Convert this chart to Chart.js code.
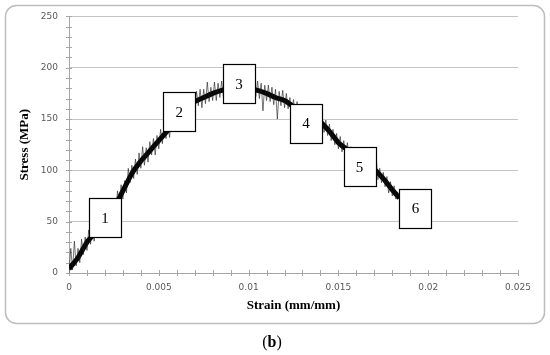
<!DOCTYPE html>
<html><head><meta charset="utf-8">
<script src="https://cdn.jsdelivr.net/npm/chart.js@4/dist/chart.umd.min.js"></script>
<style>html,body{margin:0;padding:0;background:#fff;overflow:hidden}#wrap{width:550px;height:355px;position:relative}</style>
</head><body><div id="wrap"><canvas id="c"></canvas></div>
<script>
// Strain (mm/mm) samples of the measured curve
const strain = [
0,0.0001,0.0002,0.0003,0.0004, 0.0005,0.0006,0.0007,0.0008,0.0009,
0.001,0.0011,0.0012,0.0013,0.0014, 0.0015,0.0016,0.0017,0.0018,0.0019,
0.002,0.0021,0.0022,0.0023,0.0024, 0.0025,0.0026,0.0027,0.0028,0.0029,
0.003,0.0031,0.0032,0.0033,0.0034, 0.0035,0.0036,0.0037,0.0038,0.0039,
0.004,0.0041,0.0042,0.0043,0.0044, 0.0045,0.0046,0.0047,0.0048,0.0049,
0.005,0.0051,0.0052,0.0053,0.0054, 0.0055,0.0056,0.0057,0.0058,0.0059,
0.006,0.0061,0.0062,0.0063,0.0064, 0.0065,0.0066,0.0067,0.0068,0.0069,
0.007,0.0071,0.0072,0.0073,0.0074, 0.0075,0.0076,0.0077,0.0078,0.0079,
0.008,0.0081,0.0082,0.0083,0.0084, 0.0085,0.0086,0.0087,0.0088,0.0089,
0.009,0.0091,0.0092,0.0093,0.0094, 0.0095,0.0096,0.0097,0.0098,0.0099,
0.01,0.0101,0.0102,0.0103,0.0104, 0.0105,0.0106,0.0107,0.0108,0.0109,
0.011,0.0111,0.0112,0.0113,0.0114, 0.0115,0.0116,0.0117,0.0118,0.0119,
0.012,0.0121,0.0122,0.0123,0.0124, 0.0125,0.0126,0.0127,0.0128,0.0129,
0.013,0.0131,0.0132,0.0133,0.0134, 0.0135,0.0136,0.0137,0.0138,0.0139,
0.014,0.0141,0.0142,0.0143,0.0144, 0.0145,0.0146,0.0147,0.0148,0.0149,
0.015,0.0151,0.0152,0.0153,0.0154, 0.0155,0.0156,0.0157,0.0158,0.0159,
0.016,0.0161,0.0162,0.0163,0.0164, 0.0165,0.0166,0.0167,0.0168,0.0169,
0.017,0.0171,0.0172,0.0173,0.0174, 0.0175,0.0176,0.0177,0.0178,0.0179,
0.018,0.0181,0.0182,0.0183,0.0184
];
// Stress (MPa) readings (noisy signal)
const stress = [
0,24,3,31,7, 24,10,33,18,35,
22,42,28,50,31, 49,35,50,37,60,
43,62,47,65,54, 71,59,80,67,86,
72,90,78,102,88, 105,92,111,96,117,
102,123,105,122,108, 128,115,131,115,134,
121,140,126,146,131, 147,132,150,139,157,
143,160,148,165,150, 169,154,171,150,173,
159,177,163,179,161, 179,165,186,167,181,
168,186,168,185,171, 187,171,191,171,187,
174,189,172,191,174, 189,174,190,171,191,
172,192,172,187,172, 187,170,185,158,183,
168,183,167,181,164, 179,150,177,163,178,
161,175,160,171,156, 169,155,167,151,162,
149,161,146,158,145, 157,143,156,141,154,
140,153,137,149,134, 145,129,140,125,136,
121,133,118,129,114, 127,113,123,109,120,
107,119,105,115,101, 114,100,111,97,109,
94,113,91,102,88, 98,84,94,78,89,
75,85,72,79,73
];
// Mean trend of the band
const trendStrain = [0,0.0005,0.001,0.0015,0.002,0.0025,0.003,0.0035,0.004,0.0045,0.005,0.0055,0.006,0.0065,0.007,0.0075,0.008,0.0085,0.009,0.0095,0.01,0.0105,0.011,0.0115,0.012,0.0125,0.013,0.0135,0.014,0.0145,0.015,0.0155,0.016,0.0165,0.017,0.0175,0.018,0.0184];
const trendStress = [4,15,30,40,50,63,80,97,109,119,129,139,150,160,167,171,175,178,180,181,180,178,175,171,168,162,155,150,147,138,127,120,113,107,101,92,81,73];
// Stage labels (boxes) anchored in data coordinates
const boxLabels = ['1','2','3','4','5','6'];
const boxStrain = [0.0020,0.00614,0.00946,0.01319,0.01618,0.01929];
const boxStress = [53.6,157,184.4,146,103.6,63];
// Axis ticks
const xTicks = [0,0.005,0.01,0.015,0.02,0.025];
const yTicks = [0,50,100,150,200,250];

const decor = {
  id:'decor',
  beforeDraw(chart){
    const ctx = chart.ctx;
    ctx.save();
    ctx.fillStyle='#fff'; ctx.fillRect(0,0,chart.width,chart.height);
    ctx.strokeStyle='#bdbdbd'; ctx.lineWidth=1.5;
    ctx.beginPath(); ctx.roundRect(5.5,5.5,539,318,11); ctx.stroke();
    ctx.restore();
  },
  beforeDatasetsDraw(chart){
    const ctx=chart.ctx, xs=chart.scales.x, ys=chart.scales.y;
    const x0=xs.getPixelForValue(0), y0=ys.getPixelForValue(0);
    ctx.save(); ctx.strokeStyle='#a6a6a6'; ctx.lineWidth=1;
    ctx.beginPath();
    for(let v=0; v<=250.01; v+=10){ const p=Math.round(ys.getPixelForValue(v))+0.5; ctx.moveTo(x0-3,p); ctx.lineTo(x0+3,p); }
    for(let i=0;i<=25;i++){ const p=Math.round(xs.getPixelForValue(i*0.001))+0.5; ctx.moveTo(p,y0-3); ctx.lineTo(p,y0+3); }
    ctx.stroke(); ctx.restore();
  },
  afterDatasetsDraw(chart){
    const ctx=chart.ctx, xs=chart.scales.x, ys=chart.scales.y;
    ctx.save();
    ctx.font='15px "Liberation Serif"'; ctx.textAlign='center'; ctx.textBaseline='middle';
    boxLabels.forEach((t,i)=>{
      const cx=xs.getPixelForValue(boxStrain[i]), cy=ys.getPixelForValue(boxStress[i]);
      const w=32,h=39, l=Math.round(cx-w/2)+0.5, tp=Math.round(cy-h/2)+0.5;
      ctx.fillStyle='#fff'; ctx.fillRect(l,tp,w,h);
      ctx.strokeStyle='#000'; ctx.lineWidth=1.2; ctx.strokeRect(l,tp,w,h);
      ctx.fillStyle='#000'; ctx.fillText(t,cx,cy+1);
    });
    ctx.restore();
  },
  afterDraw(chart){
    const ctx=chart.ctx; ctx.save(); ctx.fillStyle='#000'; ctx.textBaseline='middle';
    const fN='16px "Liberation Serif"', fB='bold 16px "Liberation Serif"';
    ctx.font=fN; const w1=ctx.measureText('(').width; const w3=ctx.measureText(')').width;
    ctx.font=fB; const w2=ctx.measureText('b').width;
    let x=272-(w1+w2+w3)/2, y=343;
    ctx.font=fN; ctx.fillText('(',x,y); x+=w1;
    ctx.font=fB; ctx.fillText('b',x,y); x+=w2;
    ctx.font=fN; ctx.fillText(')',x,y);
    ctx.restore();
  }
};

new Chart(document.getElementById('c'),{
  type:'line',
  data:{datasets:[
    {data:strain.map((s,i)=>({x:s,y:stress[i]})),borderColor:'#1a1a1a',borderWidth:0.6,pointRadius:0,tension:0},
    {data:trendStrain.map((s,i)=>({x:s,y:trendStress[i]})),borderColor:'#000',borderWidth:5,pointRadius:0,tension:0.2}
  ]},
  options:{
    responsive:true, maintainAspectRatio:false, animation:false,
    layout:{padding:{left:0,top:16,right:32,bottom:0}},
    plugins:{legend:{display:false},tooltip:{enabled:false}},
    scales:{
      x:{type:'linear',min:0,max:0.025,
        afterBuildTicks:s=>{s.ticks=xTicks.map(v=>({value:v}));},
        grid:{display:false,drawTicks:false},
        border:{color:'#a6a6a6',width:1},
        ticks:{font:{family:'DejaVu Sans',size:9},color:'#595959',padding:9,maxRotation:0,
          callback:v=>String(parseFloat(Number(v).toFixed(4)))},
        title:{display:true,text:'Strain (mm/mm)',font:{family:'Liberation Serif',size:13,weight:'bold'},color:'#000',padding:{top:0,bottom:42}},
        afterFit:s=>{s.height=82;}
      },
      y:{min:0,max:250,
        afterBuildTicks:s=>{s.ticks=yTicks.map(v=>({value:v}));},
        grid:{color:'#c4c4c4',lineWidth:1,drawTicks:false},
        border:{color:'#a6a6a6',width:1},
        ticks:{font:{family:'DejaVu Sans',size:9},color:'#595959',padding:11},
        title:{display:true,text:'Stress (MPa)',font:{family:'Liberation Serif',size:13,weight:'bold'},color:'#000',padding:{top:17,bottom:0}},
        afterFit:s=>{s.width=69;}
      }
    }
  },
  plugins:[decor]
});
</script></body></html>
